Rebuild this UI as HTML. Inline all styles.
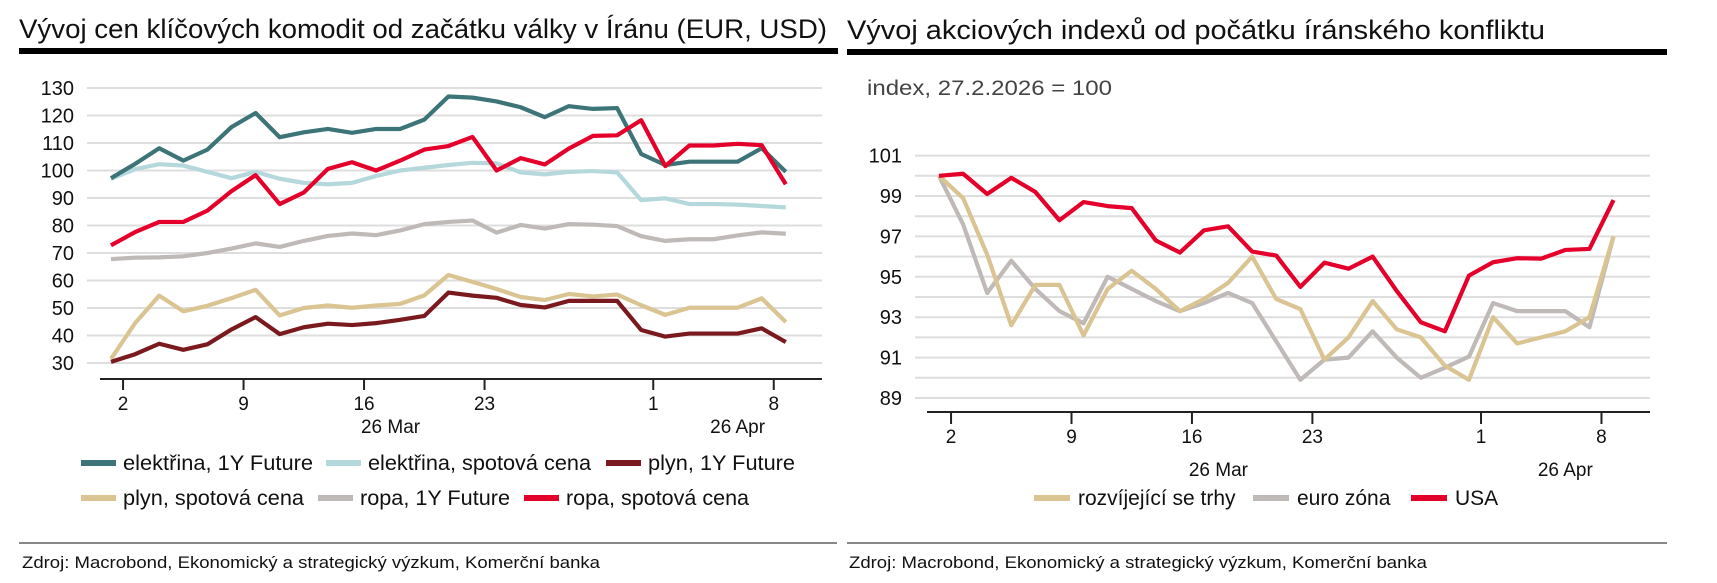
<!DOCTYPE html>
<html><head><meta charset="utf-8"><style>
html,body{margin:0;padding:0;background:#fff;}
svg{display:block;font-family:"Liberation Sans",Arial,sans-serif;}
</style></head><body>
<svg id="c" width="1717" height="583" viewBox="0 0 1717 583" xmlns="http://www.w3.org/2000/svg">
<text x="19" y="38" font-size="27" textLength="808" lengthAdjust="spacingAndGlyphs" fill="#111">Vývoj cen klíčových komodit od začátku války v Íránu (EUR, USD)</text>
<rect x="19" y="48" width="819" height="6" fill="#000"/>
<text x="847" y="39" font-size="27" textLength="698" lengthAdjust="spacingAndGlyphs" fill="#111">Vývoj akciových indexů od počátku íránského konfliktu</text>
<rect x="847" y="49" width="820" height="6" fill="#000"/>
<text x="867" y="95" font-size="21" textLength="245" lengthAdjust="spacingAndGlyphs" fill="#444">index, 27.2.2026 = 100</text>
<rect x="19" y="542" width="818" height="2" fill="#888"/>
<rect x="847" y="542" width="820" height="2" fill="#888"/>
<text x="22" y="568" font-size="17" textLength="578" lengthAdjust="spacingAndGlyphs" fill="#111">Zdroj: Macrobond, Ekonomický a strategický výzkum, Komerční banka</text>
<text x="849" y="568" font-size="17" textLength="578" lengthAdjust="spacingAndGlyphs" fill="#111">Zdroj: Macrobond, Ekonomický a strategický výzkum, Komerční banka</text>
<g id="left"></g><g id="right"></g>
</svg>
<script>
// ---- left chart data ----
const leftYTicks = [30,40,50,60,70,80,90,100,110,120,130];
const xTickLabels = ["2","9","16","23","1","8"];
const xTickIdx = [0.5,5.5,10.5,15.5,22.5,27.5];
const monthLabels = ["26 Mar","26 Apr"];
const monthIdx = [11.6,26];
const elekFuture = [97.2,102.4,108.1,103.6,107.6,115.8,120.9,112.1,113.9,115.1,113.7,115.1,115.1,118.5,126.9,126.5,125.1,123.0,119.4,123.4,122.4,122.7,106.0,102.0,103.2,103.2,103.2,108.1,99.5];
const elekSpot = [97,100.5,102.3,101.8,99.5,97.2,99.5,97,95.5,95,95.5,98,100,101,102,102.8,102.6,99.3,98.6,99.5,99.8,99.3,89.2,89.9,87.8,87.8,87.6,87.1,86.6];
const plynFuture = [30.4,33.2,37,34.8,36.8,42.2,46.7,40.5,43,44.3,43.8,44.5,45.7,47.1,55.6,54.5,53.7,51.1,50.2,52.6,52.6,52.6,42,39.6,40.7,40.7,40.7,42.6,37.6];
const plynSpot = [31.5,44.5,54.5,48.8,50.8,53.6,56.6,47.3,50,50.9,50.1,50.9,51.5,54.6,62,59.5,56.9,54,52.9,55.1,54.2,54.9,51,47.5,50.1,50.1,50.1,53.5,44.9];
const ropaFuture = [67.8,68.3,68.4,68.8,70,71.6,73.5,72.2,74.4,76.2,77.1,76.5,78.2,80.5,81.3,81.8,77.4,80.2,78.9,80.5,80.3,79.8,76.1,74.4,75,75,76.4,77.5,77];
const ropaSpot = [72.8,77.6,81.3,81.3,85.4,92.5,98.3,87.8,92,100.6,103,100,103.6,107.6,108.9,112.2,100,104.5,102.2,108,112.6,112.8,118.3,101.6,109.1,109.1,109.7,109.2,95];
const leftNames = ["elektřina, 1Y Future","elektřina, spotová cena","plyn, 1Y Future","plyn, spotová cena","ropa, 1Y Future","ropa, spotová cena"];
// ---- right chart data ----
const rightYTicks = [89,91,93,95,97,99,101];
const emerging = [100,98.9,96.1,92.6,94.6,94.6,92.1,94.4,95.3,94.4,93.3,93.9,94.7,96.0,93.9,93.4,90.9,92.0,93.8,92.4,92.0,90.6,89.9,93.0,91.7,92.0,92.3,93.0,97.0];
const euro = [100,97.6,94.2,95.8,94.4,93.3,92.7,95.0,94.4,93.8,93.3,93.7,94.2,93.7,91.8,89.9,90.9,91.0,92.3,91.0,90.0,90.5,91.05,93.7,93.3,93.3,93.3,92.5,97.0];
const usa = [100,100.1,99.1,99.9,99.2,97.8,98.7,98.5,98.4,96.8,96.2,97.3,97.5,96.25,96.05,94.5,95.7,95.4,96.0,94.3,92.75,92.3,95.06,95.72,95.92,95.9,96.33,96.38,98.8];
const rightNames = ["rozvíjející se trhy","euro zóna","USA"];

const NS="http://www.w3.org/2000/svg";
function mk(parent,tag,attrs){const e=document.createElementNS(NS,tag);for(const k in attrs)e.setAttribute(k,attrs[k]);parent.appendChild(e);return e;}
const STEP=24.1;
const lx=i=>111+i*STEP;
const ly=v=>363-(v-30)*2.75;
const rx=i=>939+i*24.09;
const ry=v=>398-(v-89)*20.2;
const LW=4.2;

const L=document.getElementById('left');
leftYTicks.forEach(t=>{
  const g=mk(L,'line',{x1:87,x2:822,y1:ly(t),y2:ly(t),stroke:'#dedede','stroke-width':2});
  
  
  const tx=mk(L,'text',{x:74,y:ly(t)+7,'font-size':20,'text-anchor':'end',fill:'#111'});
  tx.textContent=t;
  
  
});
const la=mk(L,'line',{x1:100,x2:822,y1:379,y2:379,stroke:'#222','stroke-width':2});


xTickLabels.forEach((s,k)=>{
  const t=mk(L,'line',{x1:lx(xTickIdx[k]),x2:lx(xTickIdx[k]),y1:379,y2:390,stroke:'#222','stroke-width':2});
  
  
  const tx=mk(L,'text',{x:lx(xTickIdx[k]),y:410,'font-size':19,'text-anchor':'middle',fill:'#111'});
  tx.textContent=s;
  
  
});
monthLabels.forEach((s,k)=>{
  const tx=mk(L,'text',{x:lx(monthIdx[k]),y:433,'font-size':19,'text-anchor':'middle',fill:'#111'});
  tx.textContent=s;
  
  
});
const leftSeries=[[ropaFuture,'#bfb9b8',4],[plynSpot,'#d9c492',3],[plynFuture,'#7a1a1f',2],[elekSpot,'#b4d8dc',1],[elekFuture,'#3d7478',0],[ropaSpot,'#e4002b',5]];
leftSeries.forEach(([d,c,n])=>{
  const p=mk(L,'polyline',{points:d.map((v,i)=>lx(i)+','+ly(v)).join(' '),fill:'none',stroke:c,'stroke-width':LW,'stroke-linejoin':'round'});
  
  
});
const leftColors=['#3d7478','#b4d8dc','#7a1a1f','#d9c492','#bfb9b8','#e4002b'];
const legX=[81,326,606,81,318,524];
const legY=[463,463,463,498,498,498];
const legW=[190,223,147,181,150,183];
leftNames.forEach((n,k)=>{
  const s=mk(L,'rect',{x:legX[k],y:legY[k]-3,width:35,height:6,fill:leftColors[k]});
  
  
  const tx=mk(L,'text',{x:legX[k]+42,y:legY[k]+7,'font-size':21,fill:'#111',textLength:legW[k],lengthAdjust:'spacingAndGlyphs'});
  tx.textContent=n;
  
  
});

const R=document.getElementById('right');
for(let v=89;v<=101;v++){
  const g=mk(R,'line',{x1:915,x2:1650,y1:ry(v),y2:ry(v),stroke:'#dedede','stroke-width':2});
  
  
}
rightYTicks.forEach(t=>{
  const tx=mk(R,'text',{x:902,y:ry(t)+7,'font-size':20,'text-anchor':'end',fill:'#111'});
  tx.textContent=t;
  
  
});
const ra=mk(R,'line',{x1:927,x2:1650,y1:412,y2:412,stroke:'#222','stroke-width':2});


xTickLabels.forEach((s,k)=>{
  const t=mk(R,'line',{x1:rx(xTickIdx[k]),x2:rx(xTickIdx[k]),y1:412,y2:424,stroke:'#222','stroke-width':2});
  
  
  const tx=mk(R,'text',{x:rx(xTickIdx[k]),y:443,'font-size':19,'text-anchor':'middle',fill:'#111'});
  tx.textContent=s;
  
  
});
monthLabels.forEach((s,k)=>{
  const tx=mk(R,'text',{x:rx(monthIdx[k]),y:476,'font-size':19,'text-anchor':'middle',fill:'#111'});
  tx.textContent=s;
  
  
});
const rightSeries=[[euro,'#bfb9b8',1],[emerging,'#d9c492',0],[usa,'#e4002b',2]];
rightSeries.forEach(([d,c,n])=>{
  const p=mk(R,'polyline',{points:d.map((v,i)=>rx(i)+','+ry(v)).join(' '),fill:'none',stroke:c,'stroke-width':LW,'stroke-linejoin':'round'});
  
  
});
const rColors=['#d9c492','#bfb9b8','#e4002b'];
const rLegX=[1034,1253,1411];
rightNames.forEach((n,k)=>{
  const s=mk(R,'rect',{x:rLegX[k],y:495,width:36,height:6,fill:rColors[k]});
  
  
  const tx=mk(R,'text',{x:rLegX[k]+44,y:505,'font-size':21,fill:'#111'});
  tx.textContent=n;
  
  
});
</script>
</body></html>
